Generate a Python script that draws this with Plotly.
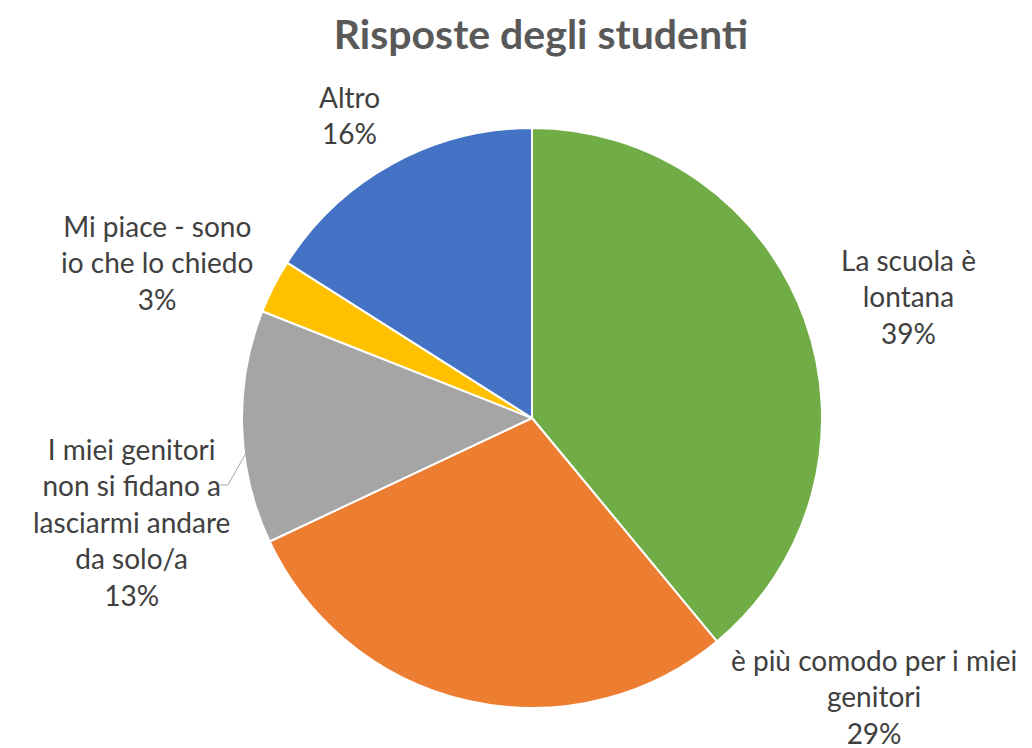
import plotly.graph_objects as go

# ---- data ----
labels = [
    "La scuola è lontana",
    "è più comodo per i miei genitori",
    "I miei genitori non si fidano a lasciarmi andare da solo/a",
    "Mi piace - sono io che lo chiedo",
    "Altro",
]
label_lines = [
    ["La scuola è", "lontana"],
    ["è più comodo per i miei", "genitori"],
    ["I miei genitori", "non si fidano a", "lasciarmi andare", "da solo/a"],
    ["Mi piace - sono", "io che lo chiedo"],
    ["Altro"],
]
values = [39, 29, 13, 3, 16]
colors = ["#70AD47", "#ED7D31", "#A5A5A5", "#FFC000", "#4472C4"]

W, H = 1032, 748
# label block centres in pixels (layout)
label_pos = [(900, 288), (866, 688), (123, 514), (149, 254), (341, 107)]

total = sum(values)

fig = go.Figure(go.Pie(
    labels=labels,
    values=values,
    sort=False,
    direction="clockwise",
    rotation=0,
    marker=dict(colors=colors, line=dict(color="white", width=2)),
    textinfo="none",
    hoverinfo="label+percent",
    showlegend=False,
    domain=dict(x=[234 / W, 814 / W], y=[1 - 700 / H, 1 - 120 / H]),
))

annotations = []
for lines, v, (px, py) in zip(label_lines, values, label_pos):
    pct = round(v / total * 100)
    text = "<br>".join(lines + [f"{pct}%"])
    annotations.append(dict(
        x=px / W, y=1 - py / H, xref="paper", yref="paper",
        text=text, showarrow=False, xanchor="center", yanchor="middle",
        font=dict(family="Lato", size=28, color="#404040"),
    ))

fig.update_layout(
    width=W, height=H,
    margin=dict(l=0, r=0, t=0, b=0),
    paper_bgcolor="white",
    plot_bgcolor="white",
    title=dict(
        text="<b>Risposte degli studenti</b>",
        x=533 / W, xanchor="center", y=1 - 27 / H, yanchor="middle",
        font=dict(family="Lato", size=41, color="#595959"),
    ),
    annotations=annotations,
    shapes=[dict(
        type="path", xref="paper", yref="paper",
        path=f"M {243 / W},{1 - 436 / H} L {220 / W},{1 - 477 / H} L {212 / W},{1 - 477 / H}",
        line=dict(color="#A6A6A6", width=1),
    )],
)

fig.write_html("out.html")
